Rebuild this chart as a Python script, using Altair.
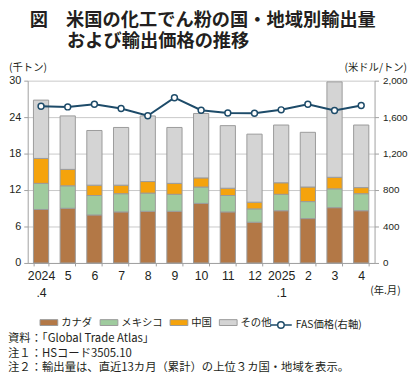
import altair as alt
import pandas as pd

FONT = "Noto Sans CJK JP"
NUM_FONT = "Liberation Sans"
NAVY = "#1d4b69"
TXT = "#231f20"

months = ["2024\n.4", "5", "6", "7", "8", "9", "10", "11", "12", "2025\n.1", "2", "3", "4"]
series = ["カナダ", "メキシコ", "中国", "その他"]
colors = ["#b37846", "#9fcb9e", "#f5a30c", "#d4d4d4"]

canada = [8.8, 9.0, 7.9, 8.4, 8.5, 8.5, 9.8, 8.4, 6.7, 8.6, 7.3, 9.1, 8.6]
mexico = [4.3, 3.7, 3.2, 3.0, 3.0, 2.8, 2.7, 2.7, 2.2, 2.7, 2.8, 3.1, 2.8]
china = [4.1, 2.7, 1.7, 1.4, 1.9, 1.8, 1.5, 1.2, 1.1, 1.9, 2.4, 1.9, 1.0]
other = [9.6, 8.8, 9.0, 9.5, 10.8, 9.2, 10.6, 10.3, 11.2, 9.5, 9.0, 15.7, 10.3]
fas = [1719, 1712, 1741, 1694, 1615, 1813, 1676, 1646, 1643, 1680, 1741, 1673, 1727]
fas_name = "FAS価格(右軸)"

rows = []
for si, (name, vals) in enumerate(zip(series, [canada, mexico, china, other])):
    for m, v in zip(months, vals):
        rows.append({"month": m, "series": name, "ord": si, "value": v})
bars_df = pd.DataFrame(rows)
line_df = pd.DataFrame({"month": months, "price": fas, "s": fas_name})

xenc = alt.X(
    "month:N", sort=months, title=None,
    scale=alt.Scale(paddingInner=0.43, paddingOuter=0.215),
    axis=alt.Axis(labelAngle=0, labelExpr="split(datum.label, '\\n')", labelLineHeight=17,
                  labelFont=NUM_FONT, labelFontSize=12.5, labelColor=TXT, labelPadding=4,
                  tickBand="extent", tickSize=3, tickColor="#a0a0a0", domainColor="#a0a0a0",
                  grid=False),
)

bars = alt.Chart(bars_df).mark_bar(stroke="#9a9a9a", strokeWidth=1).encode(
    x=xenc,
    y=alt.Y("value:Q", stack="zero", title=None,
            scale=alt.Scale(domain=[0, 30], nice=False),
            axis=alt.Axis(values=[0, 6, 12, 18, 24, 30], grid=True, gridColor="#c8c8c8",
                          domainColor="#a0a0a0", tickColor="#a0a0a0", tickSize=4,
                          labelPadding=3, labelFont=NUM_FONT, labelFontSize=11, labelColor=TXT)),
    color=alt.Color("series:N", sort=series, scale=alt.Scale(domain=series, range=colors),
                    legend=alt.Legend(orient="none", legendX=12, legendY=236, direction="horizontal",
                                      title=None, symbolType="M-1,-0.33H1V0.33H-1Z", symbolSize=324,
                                      symbolStrokeColor="#9a9a9a", symbolStrokeWidth=1,
                                      labelOffset=3, columnPadding=5, padding=0,
                                      labelFont=FONT, labelFontSize=10.5, labelColor=TXT)),
    order=alt.Order("ord:Q"),
)

line = alt.Chart(line_df).mark_line(
    strokeWidth=2,
    point=alt.OverlayMarkDef(shape="circle", filled=True, fill="white", stroke=NAVY, strokeWidth=1.5, size=36),
).encode(
    x=xenc,
    y=alt.Y("price:Q", title=None, scale=alt.Scale(domain=[0, 2000], nice=False),
            axis=alt.Axis(orient="right", values=[0, 400, 800, 1200, 1600, 2000], format=",.0f",
                          grid=False, domainColor="#a0a0a0", tickColor="#a0a0a0", tickSize=4,
                          labelPadding=4, labelFont=NUM_FONT, labelFontSize=10, labelColor=TXT)),
    stroke=alt.Stroke("s:N", scale=alt.Scale(domain=[fas_name], range=[NAVY]),
                      legend=alt.Legend(orient="none", legendX=245, legendY=236, title=None,
                                        symbolType="M-1,0H-0.3M0.3,0H1M0.3,0A0.3,0.3,0,1,1,-0.3,0A0.3,0.3,0,1,1,0.3,0",
                                        symbolSize=484, symbolStrokeWidth=1.5, symbolFillColor="white",
                                        labelOffset=3, padding=0,
                                        labelFont=FONT, labelFontSize=10.5, labelColor=TXT)),
)


def txt(s, x, y, size, align="left", weight="normal", font=FONT):
    return alt.Chart(alt.Data(values=[{"t": s}])).mark_text(
        align=align, baseline="middle", fontSize=size, font=font, fontWeight=weight, color=TXT
    ).encode(x=alt.value(x), y=alt.value(y), text="t:N")


texts = [
    txt("図　米国の化工でん粉の国・地域別輸出量", 2, -61, 18.5, weight="bold"),
    txt("および輸出価格の推移", 40, -40, 18.5, weight="bold"),
    txt("(千トン)", -19, -13, 10.5),
    txt("(米ドル/トン)", 385, -13, 10.5, align="right"),
    txt("(年.月)", 363, 214, 10.5, align="center"),
    txt("資料：「Global Trade Atlas」", -20, 262, 11.5),
    txt("注１：HSコード3505.10", -20, 277, 11.5),
    txt("注２：輸出量は、直近13カ月（累計）の上位３カ国・地域を表示。", -20, 292, 11.5),
]

chart = alt.layer(bars, line, *texts).resolve_scale(
    y="independent", color="independent", stroke="independent"
).properties(
    width=352, height=185,
    autosize=alt.AutoSizeParams(type="none"),
    padding={"left": 20, "top": 71, "right": 38, "bottom": 114},
).configure_view(stroke="transparent")

chart.save("out.html", embed_options={"renderer": "svg", "actions": False})
